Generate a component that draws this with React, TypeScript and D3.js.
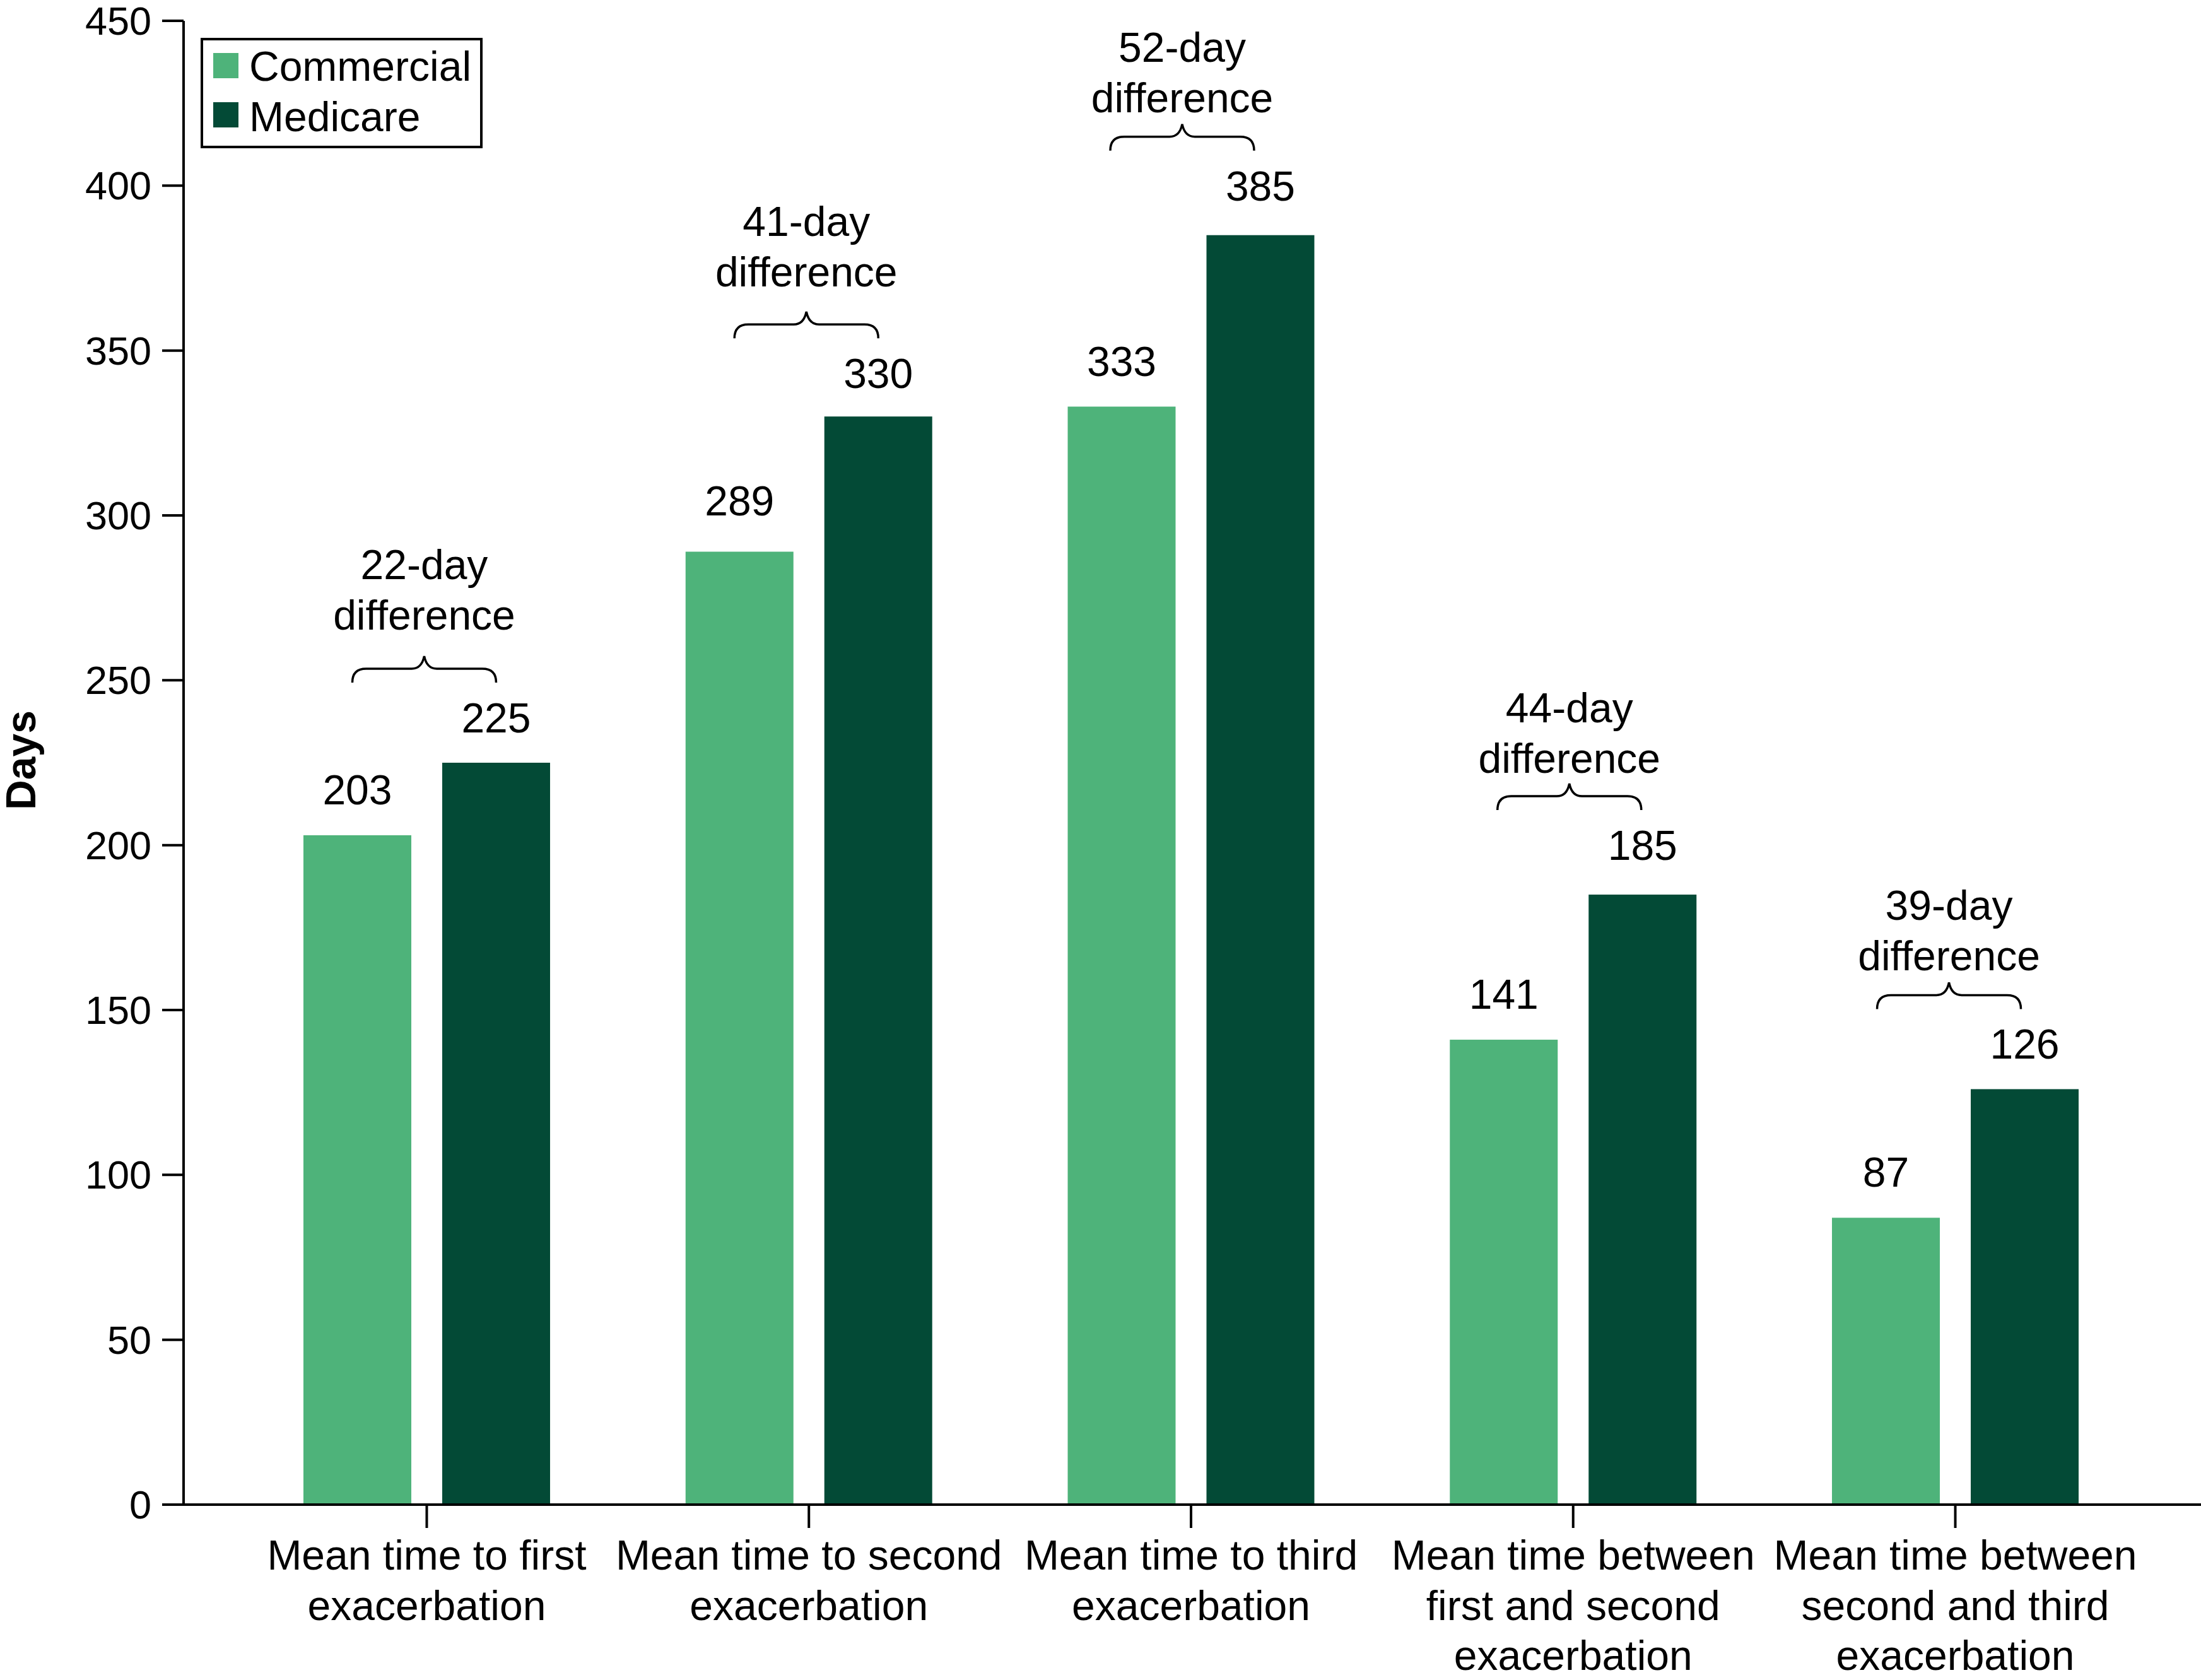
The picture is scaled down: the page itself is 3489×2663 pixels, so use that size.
import React from "react";
import * as d3 from "d3";

const categories: string[][] = [
  ["Mean time to first", "exacerbation"],
  ["Mean time to second", "exacerbation"],
  ["Mean time to third", "exacerbation"],
  ["Mean time between", "first and second", "exacerbation"],
  ["Mean time between", "second and third", "exacerbation"],
];
const seriesNames = ["Commercial", "Medicare"];
const commercial = [203, 289, 333, 141, 87];
const medicare = [225, 330, 385, 185, 126];
const yTicks = [0, 50, 100, 150, 200, 250, 300, 350, 400, 450];
const colors = ["#4eb37a", "#034a36"];

// layout tweaks (px) for label placement, matching the original figure
const liftC = [49, 57, 49, 49, 49];
const liftM = [48, 45, 55, 55, 48];
const annoShift = [-4, -4, -14, -6, -10];
const annoTextGap = [42, 40, 19, 17, 19];

const W = 3489;
const H = 2663;
const FONT = "'Liberation Sans', Arial, Helvetica, sans-serif";

export default function App() {
  const keys = categories.map((_, i) => String(i));
  const x = d3.scaleBand<string>().domain(keys).range([373.6, 3402.4]).padding(0);
  const bw = x.bandwidth();
  const inner = d3
    .scaleBand<string>()
    .domain(seriesNames)
    .range([0, bw])
    .paddingInner(49 / 220)
    .paddingOuter(107.4 / 220);
  const y = d3.scaleLinear().domain([0, 450]).range([2385, 33]);
  const axisX = 291;

  const bracePath = (cx: number, half: number, yEnd: number) => {
    const yH = yEnd - 22;
    const yTip = yEnd - 42;
    const x0 = cx - half;
    const x1 = cx + half;
    const p = d3.path();
    p.moveTo(x0, yEnd);
    p.quadraticCurveTo(x0, yH, x0 + 22, yH);
    p.lineTo(cx - 20, yH);
    p.quadraticCurveTo(cx - 4, yH, cx, yTip);
    p.quadraticCurveTo(cx + 4, yH, cx + 20, yH);
    p.lineTo(x1 - 22, yH);
    p.quadraticCurveTo(x1, yH, x1, yEnd);
    return p.toString();
  };

  return (
    <svg
      width={W}
      height={H}
      style={{ position: "absolute", left: 0, top: 0, background: "#fff" }}
      fontFamily={FONT}
    >
      <rect x={0} y={0} width={W} height={H} fill="#fff" />
      {/* bars */}
      {keys.map((k, i) => {
        const vals = [commercial[i], medicare[i]];
        const lifts = [liftC[i], liftM[i]];
        return (
          <g key={k} transform={`translate(${x(k)},0)`}>
            {seriesNames.map((s, j) => (
              <rect
                key={s}
                x={inner(s)}
                y={y(vals[j])}
                width={inner.bandwidth()}
                height={y(0) - y(vals[j])}
                fill={colors[j]}
              />
            ))}
            {seriesNames.map((s, j) => (
              <text
                key={s + "l"}
                x={(inner(s) as number) + inner.bandwidth() / 2}
                y={y(vals[j]) - lifts[j]}
                textAnchor="middle"
                fontSize={66}
                fill="#000"
              >
                {vals[j]}
              </text>
            ))}
          </g>
        );
      })}
      {/* difference annotations */}
      {keys.map((k, i) => {
        const cx = (x(k) as number) + bw / 2 + annoShift[i];
        const b = y(medicare[i]) - liftM[i];
        const yEnd = b - 79;
        const yTip = yEnd - 42;
        const diffBase = yTip - annoTextGap[i];
        return (
          <g key={"a" + k}>
            <path
              d={bracePath(cx, 114, yEnd)}
              fill="none"
              stroke="#000"
              strokeWidth={3.5}
            />
            <text x={cx} y={diffBase} textAnchor="middle" fontSize={66}>
              difference
            </text>
            <text x={cx} y={diffBase - 80} textAnchor="middle" fontSize={66}>
              {`${medicare[i] - commercial[i]}-day`}
            </text>
          </g>
        );
      })}
      {/* y axis */}
      <line x1={axisX} x2={axisX} y1={y(450)} y2={y(0)} stroke="#000" strokeWidth={4} />
      {yTicks.map((t) => (
        <g key={t}>
          <line x1={axisX - 34} x2={axisX} y1={y(t)} y2={y(t)} stroke="#000" strokeWidth={4} />
          <text
            x={axisX - 51}
            y={y(t)}
            dy="0.35em"
            textAnchor="end"
            fontSize={63}
          >
            {t}
          </text>
        </g>
      ))}
      {/* x axis */}
      <line x1={axisX - 34} x2={W} y1={y(0)} y2={y(0)} stroke="#000" strokeWidth={4} />
      {keys.map((k, i) => {
        const cx = (x(k) as number) + bw / 2;
        return (
          <g key={"x" + k}>
            <line x1={cx} x2={cx} y1={y(0)} y2={y(0) + 37} stroke="#000" strokeWidth={4} />
            {categories[i].map((line, li) => (
              <text key={li} x={cx} y={2488 + li * 79.5} textAnchor="middle" fontSize={66}>
                {line}
              </text>
            ))}
          </g>
        );
      })}
      {/* y axis title */}
      <text
        transform={`translate(56,1205) rotate(-90)`}
        textAnchor="middle"
        fontSize={66}
        fontWeight="bold"
      >
        Days
      </text>
      {/* legend */}
      <rect x={320} y={62} width={443} height={171} fill="#fff" stroke="#000" strokeWidth={4} />
      {seriesNames.map((s, j) => (
        <g key={"lg" + s}>
          <rect x={338} y={84 + j * 78} width={40} height={40} fill={colors[j]} />
          <text x={395} y={128 + j * 80} fontSize={66}>
            {s}
          </text>
        </g>
      ))}
    </svg>
  );
}
